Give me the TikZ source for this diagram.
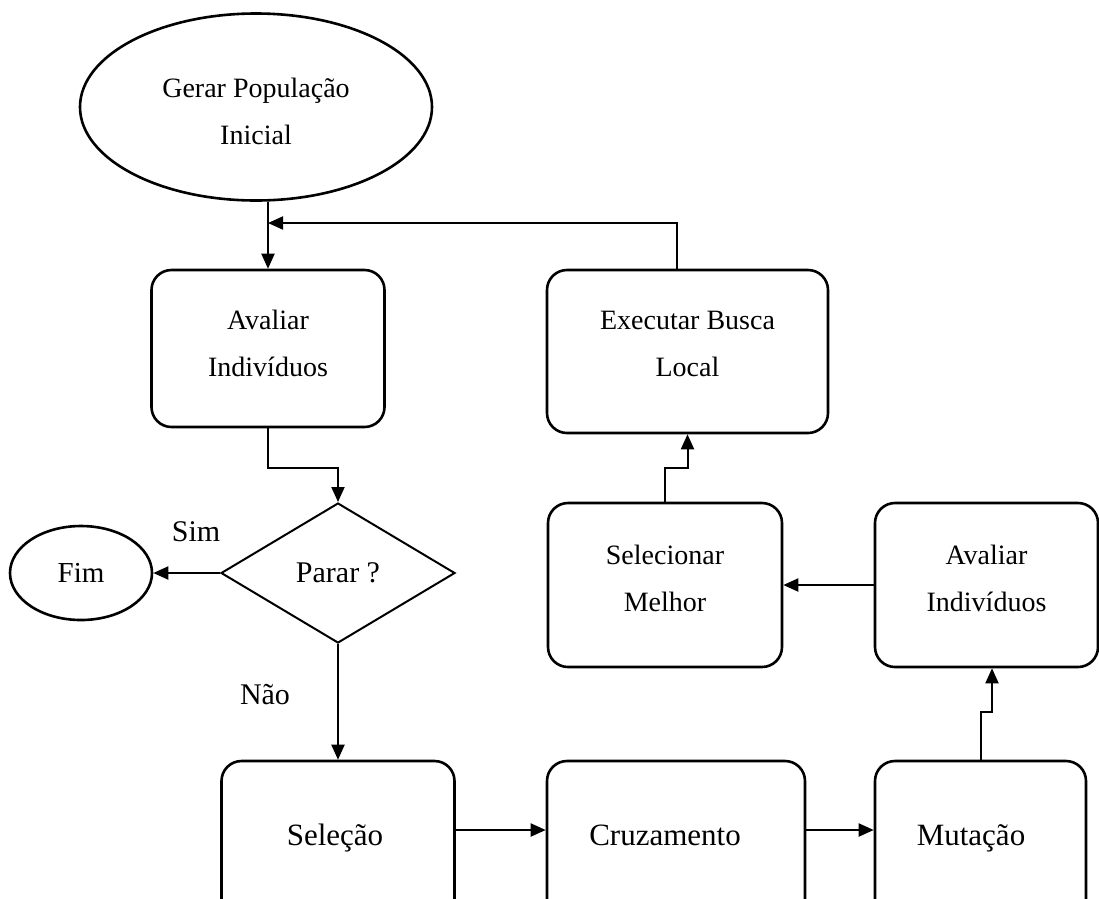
\documentclass[tikz,border=0pt]{standalone}
\usepackage{fontspec}
\setmainfont{Liberation Serif}
\usepackage{xcolor}
\usepackage{tikz}
\usetikzlibrary{shapes.geometric, arrows.meta, positioning}

\newcommand{\lift}[1]{\rule[-#1]{0pt}{#1}}

\begin{document}
\begin{tikzpicture}[x=1pt, y=-1pt,
    box/.style={draw, rectangle, rounded corners=20pt, line width=2.6pt, align=center, inner sep=0pt, font=\fontsize{28}{47}\selectfont},
    bigbox/.style={box, minimum height=160pt, text height=22pt, text depth=14pt, font=\fontsize{31}{40}\selectfont},
    term/.style={draw, ellipse, line width=2.6pt, align=center, inner sep=0pt, font=\fontsize{28}{47}\selectfont},
    decision/.style={draw, diamond, line width=2pt, inner sep=0pt, font=\fontsize{30}{36}\selectfont},
    arrow/.style={draw, -{Triangle[length=15pt, width=13pt]}, line width=2pt},
    lbl/.style={font=\fontsize{30}{36}\selectfont}
]
    \useasboundingbox (0,0) rectangle (1099,898);
    \clip (0,0) rectangle (1099,898);

    \node (start) [term, minimum width=352pt, minimum height=187pt] at (256,107) {\rule{0pt}{29pt}Gerar População\\Inicial};
    \node (eval1) [box, minimum width=233pt, minimum height=157pt] at (268,348.5) {Avaliar\\Indivíduos\lift{10pt}};
    \node (search) [box, minimum width=281pt, minimum height=163pt] at (687.5,351.5) {Executar Busca\\Local\lift{16pt}};
    \node (stop) [decision, minimum width=234pt, minimum height=140pt] at (338,573) {Parar ?};
    \node (fim) [term, minimum width=142pt, minimum height=94pt, font=\fontsize{29}{36}\selectfont] at (81,573) {Fim};
    \node (best) [box, minimum width=234pt, minimum height=164pt] at (665,585) {Selecionar\\Melhor\lift{14pt}};
    \node (eval2) [box, minimum width=223pt, minimum height=164pt] at (986.5,585) {Avaliar\\Indivíduos\lift{14pt}};
    \node (sel) [bigbox, minimum width=233pt] at (338,841) {\hspace*{-6pt}Seleção};
    \node (cross) [bigbox, minimum width=258pt] at (676,841) {\hspace*{-22pt}Cruzamento};
    \node (mut) [bigbox, minimum width=211pt] at (980.5,841) {\hspace*{-19pt}Mutação};

    \node (yes) [lbl] at (196,532) {Sim};
    \node (no) [lbl] at (265,695) {Não};
    \coordinate (merge) at (268,223);

    \path [arrow] (start.south -| eval1.north) -- (eval1.north);
    \path [arrow] (eval1.south) -- ++(0,40) -| (stop.north);
    \path [arrow] (stop.west) -- (fim.east);
    \path [arrow] (stop.south) -- (sel.north);
    \path [arrow] ([yshift=11pt]sel.east) -- ([yshift=11pt]cross.west);
    \path [arrow] ([yshift=11pt]cross.east) -- ([yshift=11pt]mut.west);
    \path [arrow] (mut.north) -- ++(0,-48) -| ([xshift=5.5pt]eval2.south);
    \path [arrow] (eval2.west) -- (best.east);
    \path [arrow] (best.north) -- ++(0,-34) -| (search.south);
    \path [arrow] ([xshift=-10.5pt]search.north) |- (merge);
\end{tikzpicture}
\end{document}
